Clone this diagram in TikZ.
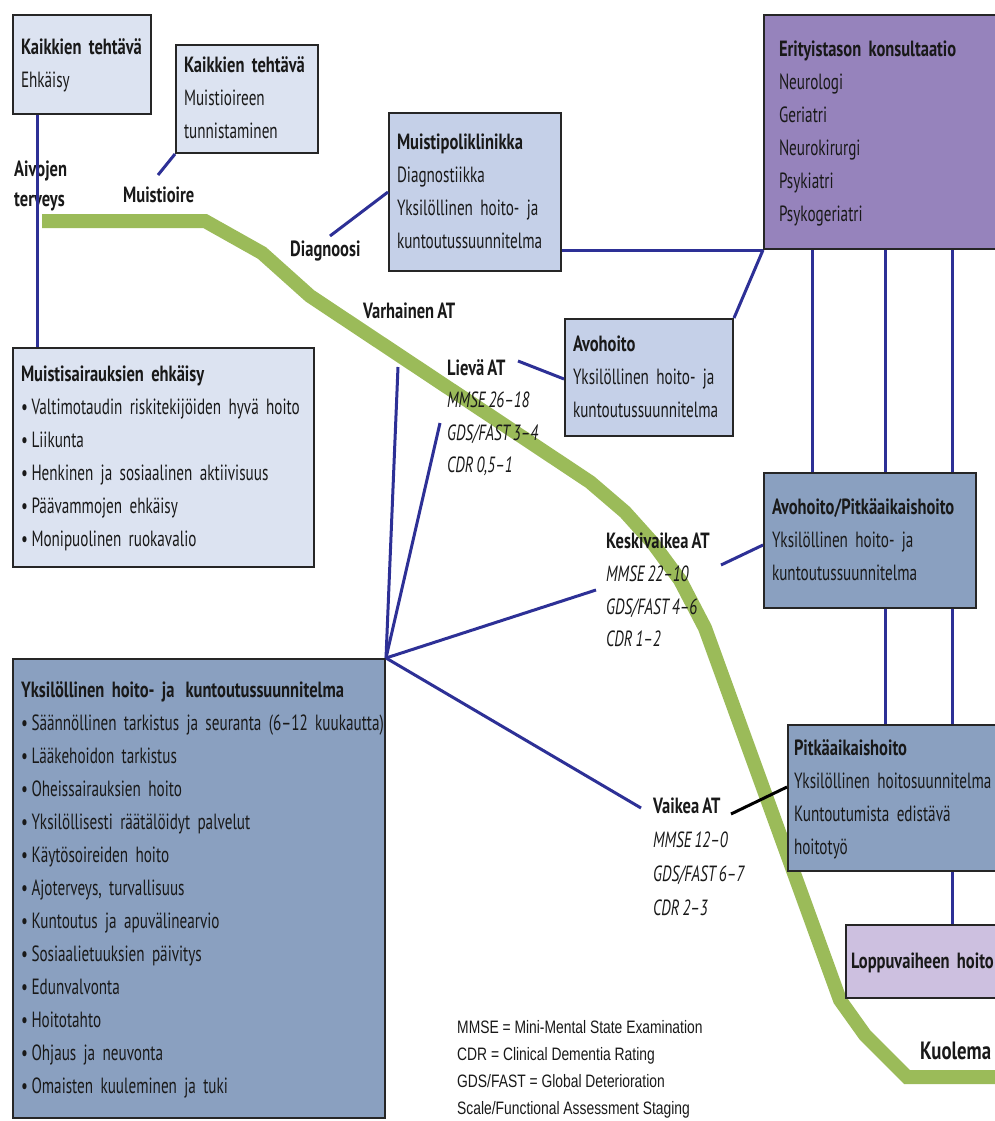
\documentclass[tikz,border=0pt]{standalone}
\usepackage{fontspec}
\setmainfont{PT Sans}[FakeStretch=0.69, WordSpace=0.75, BoldFeatures={FakeStretch=0.75}]
\newfontfamily\legendfont{Liberation Sans}[FakeStretch=0.77]
\usetikzlibrary{positioning, calc}
\definecolor{boxlight}{RGB}{220,227,241}
\definecolor{boxmid}{RGB}{197,208,232}
\definecolor{boxdark}{RGB}{138,160,192}
\definecolor{boxpurple}{RGB}{150,131,188}
\definecolor{boxlilac}{RGB}{205,192,224}
\definecolor{pathgreen}{RGB}{155,187,89}
\definecolor{linkblue}{RGB}{45,48,150}
\newcommand{\txtsize}{\fontsize{22}{33}\selectfont}
\newcommand{\rows}[1]{\begin{tabular}{@{}l@{}}#1\end{tabular}}
\tikzset{
  box/.style={draw=black!85, line width=2pt, anchor=north west, inner xsep=8pt, inner ysep=0pt, align=left, font=\txtsize, text=black!90},
  stage/.style={anchor=north west, align=left, inner sep=0pt, font=\txtsize, text=black!90},
  link/.style={linkblue, line width=3pt},
}

\begin{document}
\begin{tikzpicture}[x=1pt, y=-1pt]
    \useasboundingbox (0,0) rectangle (995,1121);
    \clip (0,0) rectangle (995,1121);

    % Disease course
    \draw[pathgreen, line width=14pt] (42,221) -- (205,221) -- (262,253) -- (310,296) -- (590,482) -- (625,512) -- (652,542) -- (680,580) -- (705,628) -- (840,1000) -- (865,1035) -- (907,1077) -- (1000,1077);

    % Boxes
    \node[box, fill=boxlight, text width=122pt, minimum height=99pt] (kt1) at (12,14) {\rows{\textbf{Kaikkien tehtävä}\\ Ehkäisy}};
    \node[box, fill=boxlight, text width=126pt, minimum height=108pt] (kt2) at (175,44) {\rows{\textbf{Kaikkien tehtävä}\\ Muistioireen\\ tunnistaminen}};
    \node[box, fill=boxmid, text width=156pt, minimum height=158pt] (muisti) at (388,112) {\rows{\textbf{Muistipoliklinikka}\\ Diagnostiikka\\ Yksilöllinen hoito- ja\\ kuntoutussuunnitelma}};
    \node[box, fill=boxpurple, inner xsep=15pt, text width=230pt, minimum height=234pt] (erit) at (763,14) {\rows{\textbf{Erityistason konsultaatio}\\ Neurologi\\ Geriatri\\ Neurokirurgi\\ Psykiatri\\ Psykogeriatri}};
    \node[box, fill=boxmid, text width=152pt, minimum height=117pt] (avo) at (564,318) {\rows{\textbf{Avohoito}\\ Yksilöllinen hoito- ja\\ kuntoutussuunnitelma}};
    \node[box, fill=boxdark, text width=196pt, minimum height=135pt] (avpit) at (763,472) {\rows{\textbf{Avohoito/Pitkäaikaishoito}\\ Yksilöllinen hoito- ja\\ kuntoutussuunnitelma}};
    \node[box, fill=boxdark, inner xsep=6pt, text width=228pt, minimum height=146pt] (pitka) at (787,724) {\rows{\textbf{Pitkäaikaishoito}\\ Yksilöllinen hoitosuunnitelma\\ Kuntoutumista edistävä\\ hoitotyö}};
    \node[box, fill=boxlilac, inner xsep=5pt, text width=170pt, minimum height=73pt] (loppu) at (845,924) {\rows{\textbf{Loppuvaiheen hoito}}};
    \node[box, fill=boxlight, text width=285pt, minimum height=219pt] (ehk) at (12,347) {\rows{\textbf{Muistisairauksien ehkäisy}\\ \textbullet\,Valtimotaudin riskitekijöiden hyvä hoito\\ \textbullet\,Liikunta\\ \textbullet\,Henkinen ja sosiaalinen aktiivisuus\\ \textbullet\,Päävammojen ehkäisy\\ \textbullet\,Monipuolinen ruokavalio}};
    \node[box, fill=boxdark, text width=356pt, minimum height=459pt] (yks) at (12,658) {\rows{\textbf{Yksilöllinen hoito- ja\ \,kuntoutussuunnitelma}\\ \textbullet\,Säännöllinen tarkistus ja seuranta (6--12 kuukautta)\\ \textbullet\,Lääkehoidon tarkistus\\ \textbullet\,Oheissairauksien hoito\\ \textbullet\,Yksilöllisesti räätälöidyt palvelut\\ \textbullet\,Käytösoireiden hoito\\ \textbullet\,Ajoterveys, turvallisuus\\ \textbullet\,Kuntoutus ja apuvälinearvio\\ \textbullet\,Sosiaalietuuksien päivitys\\ \textbullet\,Edunvalvonta\\ \textbullet\,Hoitotahto\\ \textbullet\,Ohjaus ja neuvonta\\ \textbullet\,Omaisten kuuleminen ja tuki}};

    % Stages along the course
    \node[stage, font=\fontsize{22}{30}\selectfont\bfseries] (aivo) at (14,161) {Aivojen\\terveys};
    \node[stage, font=\txtsize\bfseries] (oire) at (123,187) {Muistioire};
    \node[stage, font=\txtsize\bfseries] (diag) at (290,241) {Diagnoosi};
    \node[stage, font=\txtsize\bfseries] (varh) at (363,303) {Varhainen AT};
    \node[stage, font=\fontsize{22}{32.5}\selectfont] (lieva) at (447,359) {\textbf{Lievä AT}\\\itshape MMSE 26--18\\\itshape GDS/FAST 3--4\\\itshape CDR 0,5--1};
    \node[stage, font=\fontsize{22}{32.7}\selectfont] (keski) at (606,533) {\textbf{Keskivaikea AT}\\\itshape MMSE 22--10\\\itshape GDS/FAST 4--6\\\itshape CDR 1--2};
    \node[stage, font=\fontsize{22}{34}\selectfont] (vaik) at (653,798) {\textbf{Vaikea AT}\\\itshape MMSE 12--0\\\itshape GDS/FAST 6--7\\\itshape CDR 2--3};
    \node[stage, font=\fontsize{25}{30}\selectfont\bfseries] (kuol) at (920,1042) {Kuolema};

    % Legend
    \node[stage, font=\legendfont\fontsize{18}{27}\selectfont] (leg) at (457,1020) {MMSE = Mini-Mental State Examination\\CDR = Clinical Dementia Rating\\GDS/FAST = Global Deterioration\\Scale/Functional Assessment Staging};

    % Free ends
    \coordinate (oire-end) at (158,175);
    \coordinate (diag-end) at (330,236);
    \coordinate (lieva-end) at (518,361);
    \coordinate (keski-end) at (721,565);
    \coordinate (vaik-end) at (731,814);
    \coordinate (fanA) at (398,367);
    \coordinate (fanB) at (440,423);
    \coordinate (fanC) at (596,590);
    \coordinate (fanD) at (641,808);
    \coordinate (colA) at (812,0);
    \coordinate (colB) at (885,0);
    \coordinate (colC) at (952,0);

    % Connectors
    \draw[link] ([xshift=25pt]kt1.south west) -- ([xshift=25pt]ehk.north west);
    \draw[link] (kt2.south west) -- (oire-end);
    \draw[link] ([yshift=-80pt]muisti.north west) -- (diag-end);
    \draw[link] (muisti.east |- erit.south) -- (erit.south west);
    \draw[link] (erit.south west) -- (avo.north east);
    \draw[link] ([yshift=-61pt]avo.north west) -- (lieva-end);
    \draw[link] ([yshift=-73pt]avpit.north west) -- (keski-end);
    \foreach \c in {colA,colB,colC}
        \draw[link] (erit.south -| \c) -- (avpit.north -| \c);
    \foreach \c in {colB,colC}
        \draw[link] (avpit.south -| \c) -- (pitka.north -| \c);
    \draw[link] (pitka.south -| colC) -- (loppu.north -| colC);
    \foreach \e in {fanA,fanB,fanC,fanD}
        \draw[link] (yks.north east) -- (\e);
    \draw[black, line width=3pt] (vaik-end) -- ([yshift=-63pt]pitka.north west);
\end{tikzpicture}
\end{document}
